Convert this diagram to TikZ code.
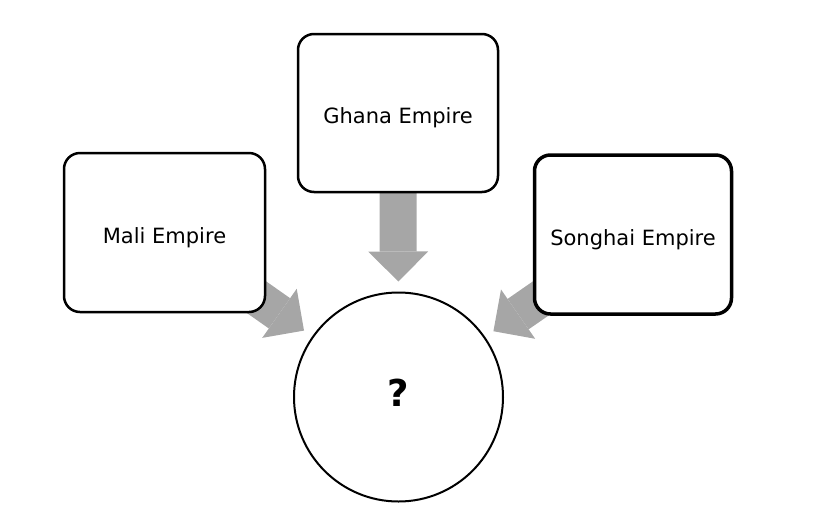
\documentclass[tikz,border=0pt]{standalone}
\usepackage{fontspec}
\setmainfont{DejaVu Sans}
\usetikzlibrary{arrows.meta,backgrounds}
\definecolor{arrowgray}{RGB}{166,166,166}
\begin{document}
\begin{tikzpicture}[x=1pt,y=-1pt,
  empire/.style={draw=black, line width=2.5pt, rounded corners=16pt, fill=white,
    font=\fontsize{21}{25}\selectfont, text height=21pt, text depth=0pt, inner sep=0pt},
  fatarrow/.style={draw=arrowgray, line width=37pt,
    -{Triangle[length=30pt,width=60pt,line width=0pt]}, shorten >=10pt}
]
\useasboundingbox (0,0) rectangle (814,528);
\node[empire, minimum width=200pt, minimum height=158pt] (ghana) at (398,113) {Ghana Empire};
\node[empire, minimum width=201pt, minimum height=159pt] (mali) at (164.5,232.5) {Mali Empire};
\node[empire, line width=3.5pt, minimum width=197pt, minimum height=159pt, yshift=1pt] (songhai) at (633,235.5) {Songhai Empire};
\node[draw=black, circle, line width=2pt, minimum size=209pt, inner sep=0pt, fill=white] (result) at (398.5,397) {};
\node[font=\fontsize{37}{40}\selectfont\bfseries, inner sep=0pt] (qm) at (398,392.5) {?};
\begin{scope}[on background layer]
  \draw[fatarrow] (ghana.center) -- (result);
  \draw[fatarrow] (mali.center) -- (result);
  \draw[fatarrow] (songhai.center) -- (result);
\end{scope}
\end{tikzpicture}
\end{document}
